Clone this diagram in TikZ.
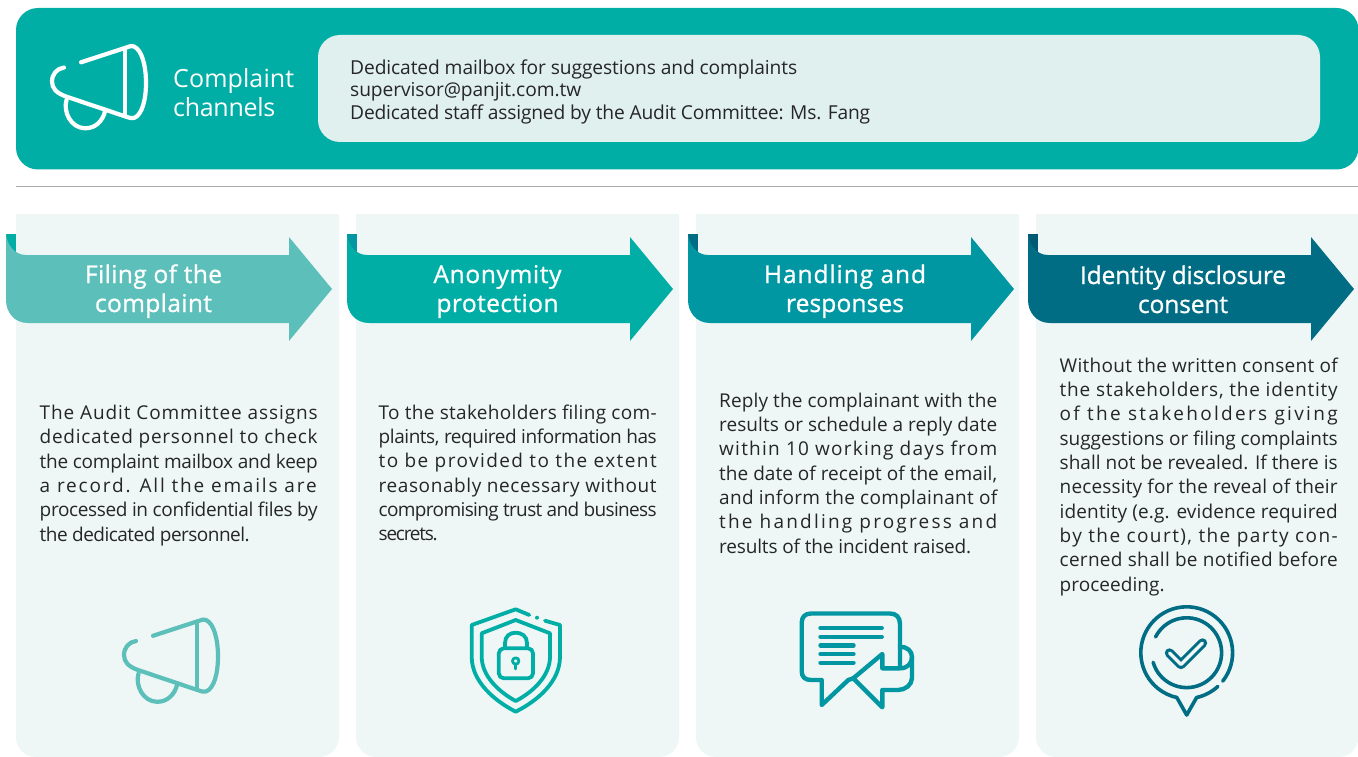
\documentclass[tikz,border=0pt]{standalone}
\usepackage{fontspec}
\usetikzlibrary{calc}
\setmainfont{Open Sans}
\newfontfamily\labelfont[FakeBold=1]{Open Sans}
\definecolor{tealA}{HTML}{00AEA5}
\definecolor{tealL}{HTML}{5CBFB9}
\definecolor{tealB}{HTML}{0097A2}
\definecolor{tealC}{HTML}{006D85}
\definecolor{tealD}{HTML}{005A73}
\definecolor{cardbg}{HTML}{EEF7F6}
\definecolor{panelbg}{HTML}{E0F0EE}
\definecolor{rulegrey}{HTML}{ABABAB}
\newcommand{\fitl}[2]{%
  \setbox0=\hbox{#2}\edef\wa{\the\wd0}%
  \setbox0=\hbox{\addfontfeature{LetterSpace=10}#2}\edef\wb{\the\wd0}%
  \pgfmathsetmacro\lsv{10*(#1-\wa)/(\wb-\wa)}%
  \hbox{\addfontfeature{LetterSpace=\lsv}#2}}
\tikzset{
  bodytext/.style={anchor=base west,inner sep=0pt,text=black!85,font=\fontsize{19}{24.35}\selectfont},
  paneltext/.style={anchor=base west,inner sep=0pt,text=black!85,font=\fontsize{19.2}{22.6}\selectfont},
  titletext/.style={anchor=base west,inner sep=0pt,text=white,font=\fontsize{25}{28.8}\selectfont},
  arrowtext/.style={anchor=base,inner sep=0pt,text=white,font=\labelfont\fontsize{24.5}{29}\selectfont},
  cardshape/.style={fill=cardbg,draw=none},
  iconline/.style={line width=4.2pt,line cap=round,line join=round,fill=none},
  pics/megaphone/.style={code={
   \begin{scope}[yscale=-1]
    \draw[iconline,draw=#1] (81,62.3) -- (127,47.3) .. controls (130,46) and (132,45.5) .. (134,46.5)
      .. controls (142,50) and (146,66) .. (146,83) .. controls (146,100) and (142,115) .. (134,118)
      .. controls (132,118.7) and (130,118) .. (127,117) -- (66,96.5)
      .. controls (56,93) and (52,88) .. (52,81.5) .. controls (52,74) and (57,68.5) .. (64,67.5);
    \draw[iconline,draw=#1] (125,50) -- (125,115);
    \draw[iconline,draw=#1] (66.5,100) .. controls (63,112) and (71,128) .. (85,128.3)
      .. controls (96,128.5) and (103,120) .. (105,111.5);
   \end{scope}
  }},
  pics/arrowband/.style n args={2}{code={
   \begin{scope}[yscale=-1]
    \fill[#2] (0,0) rectangle (9.5,48);
    \fill[#1] (0,0) .. controls (1,10) and (8,21) .. (20,21) -- (283,21) -- (283,3) -- (326,55) -- (283,107) -- (283,89)
      -- (22,89) .. controls (8,89) and (0,78) .. (0,66) -- cycle;
   \end{scope}
  }},
}
\begin{document}
\begin{tikzpicture}[x=1pt,y=1pt,yscale=-1]
\useasboundingbox (0,0) rectangle (1358,757);
% header
\fill[tealA,rounded corners=22pt] (16,8) rectangle (1358.5,169.5);
\fill[panelbg,rounded corners=22pt] (318,35) rectangle (1320,142);
\draw[rulegrey,line width=1pt] (16,186.5) -- (1358,186.5);
\pic at (0,0) {megaphone=white};
\node[titletext] (title) at (173,87.8) {\vtop{\fitl{121}{Complaint}\fitl{102}{channels}}};
\node[paneltext] (panel) at (350,74.3) {\vtop{\fitl{447}{Dedicated mailbox for suggestions and complaints}\fitl{231}{supervisor@panjit.com.tw}\fitl{520}{Dedicated staff assigned by the Audit Committee: Ms. Fang}}};
% cards
\foreach \xa/\xb in {16/339,356/679,696/1019,1036/1358.5}{
  \fill[cardshape] (\xa,214) -- (\xb,214) [rounded corners=20pt] -- (\xb,757) -- (\xa,757) [sharp corners] -- (\xa,400) -- cycle;
}
% arrows
\pic at (6,234) {arrowband={tealL}{tealA}};
\pic at (347,234) {arrowband={tealA}{tealB}};
\pic at (688,234) {arrowband={tealB}{tealC}};
\pic at (1028,234) {arrowband={tealC}{tealD}};
\node[arrowtext] (a1) at (153.5,283) {\vtop{\hbox to 0pt{\hss\fitl{137}{Filing of the}\hss}\hbox to 0pt{\hss\fitl{117}{complaint}\hss}}};
\node[arrowtext] (a2) at (497.5,283) {\vtop{\hbox to 0pt{\hss\fitl{128}{Anonymity}\hss}\hbox to 0pt{\hss\fitl{122}{protection}\hss}}};
\node[arrowtext] (a3) at (845,283) {\vtop{\hbox to 0pt{\hss\fitl{162}{Handling and}\hss}\hbox to 0pt{\hss\fitl{118}{responses}\hss}}};
\node[arrowtext] (a4) at (1183,284) {\vtop{\hbox to 0pt{\hss\fitl{206}{Identity disclosure}\hss}\hbox to 0pt{\hss\fitl{90}{consent}\hss}}};
% body texts
\node[bodytext] (t1) at (39.5,419.5) {\vtop{%
  \fitl{278}{The Audit Committee assigns}
  \fitl{278}{dedicated personnel to check}
  \fitl{278}{the complaint mailbox and keep}
  \fitl{277}{a record. All the emails are}
  \fitl{278}{processed in confidential files by}
  \fitl{210}{the dedicated personnel.}}};
\node[bodytext] (t2) at (378.5,419) {\vtop{%
  \fitl{278}{To the stakeholders filing com-}
  \fitl{278}{plaints, required information has}
  \fitl{278}{to be provided to the extent}
  \fitl{278}{reasonably necessary without}
  \fitl{278}{compromising trust and business}
  \fitl{59}{secrets.}}};
\node[bodytext] (t3) at (719,407) {\vtop{%
  \fitl{278}{Reply the complainant with the}
  \fitl{278}{results or schedule a reply date}
  \fitl{278}{within 10 working days from}
  \fitl{278}{the date of receipt of the email,}
  \fitl{278}{and inform the complainant of}
  \fitl{278}{the handling progress and}
  \fitl{252}{results of the incident raised.}}};
\node[bodytext] (t4) at (1059.5,372) {\vtop{%
  \fitl{278}{Without the written consent of}
  \fitl{278}{the stakeholders, the identity}
  \fitl{278}{of the stakeholders giving}
  \fitl{278}{suggestions or filing complaints}
  \fitl{278}{shall not be revealed. If there is}
  \fitl{278}{necessity for the reveal of their}
  \fitl{278}{identity (e.g. evidence required}
  \fitl{278}{by the court), the party con-}
  \fitl{278}{cerned shall be notified before}
  \fitl{105}{proceeding.}}};
% icon 1
\pic at (72,573.5) {megaphone=tealL};
% icon 2: shield
\begin{scope}[iconline,draw=tealA,line width=3.8pt]
  \draw (529.3,615) -- (515.7,609.3) -- (471.7,625) -- (471.7,656.7) .. controls (471.7,682) and (495,701) .. (515.7,711.7)
    .. controls (537,701) and (560,682) .. (560,656.7) -- (560,625) -- (545,620.7);
  \draw (515.7,620) -- (481.7,633.3) -- (481.7,656.7) .. controls (481.7,676) and (499,692) .. (515.7,701)
    .. controls (533,692) and (550,676) .. (550,656.7) -- (550,633.3) -- cycle;
  \draw[rounded corners=5pt] (498.8,648.3) rectangle (533,678.3);
  \draw (505,648) -- (505,643) .. controls (505,636) and (510,632.7) .. (515.7,632.7) .. controls (521.5,632.7) and (527,636) .. (527,643) -- (527,648);
  \draw[line width=2.8pt] (515.7,661) circle[radius=3.2];
  \draw[line width=2.8pt] (515.7,664) -- (515.7,669);
\end{scope}
\fill[tealA] (537,617.7) circle[radius=2];
% icon 3: chat
\begin{scope}[iconline,draw=tealB,line width=4.4pt]
  \draw (900,667) -- (900,624) .. controls (900,617) and (896,613.5) .. (890,613.5) -- (811,613.5) .. controls (805,613.5) and (801.7,617) .. (801.7,623)
    -- (801.7,671) .. controls (801.7,677) and (805,680) .. (811,680) -- (821.7,680) -- (821.7,705) -- (848.3,680) -- (853.3,678.3);
  \draw (853.3,678.3) -- (882.3,654) -- (882.3,668.3) -- (900,668.3) .. controls (908,668.3) and (912,663) .. (912,657) .. controls (912,651) and (907,646.7) .. (900,646.7);
  \draw (912,657) -- (912,678) .. controls (912,685) and (905,690) .. (898,690) -- (882.3,690) -- (882.3,707.3) -- (853.3,678.3);
  \foreach \yy/\xe in {628/881.7,636.7/881.7,645.3/853.5,654/853.5,662.7/853.5}
    \draw (820.5,\yy) -- (\xe,\yy);
\end{scope}
% icon 4: check pin
\coordinate (pin) at (1186.7,652.7);
\begin{scope}[iconline,draw=tealC,line width=3.6pt]
  \draw (1176.7,697.3) -- (1186.7,715) -- (1196.7,697.3);
  \draw ($(pin)+(38.3:45.9)$) arc[start angle=38.3,end angle=-257.5,radius=45.9];
  \draw ($(pin)+(77.5:45.9)$) arc[start angle=77.5,end angle=47.3,radius=45.9];
  \draw ($(pin)+(-153.2:34.9)$) arc[start angle=-153.2,end angle=164,radius=34.9];
  \draw[line width=9.4pt] (1169.5,653) -- (1181,664.5) -- (1202.5,643);
  \draw[line width=3.4pt,draw=cardbg] (1169.5,653) -- (1181,664.5) -- (1202.5,643);
\end{scope}
\end{tikzpicture}
\end{document}
